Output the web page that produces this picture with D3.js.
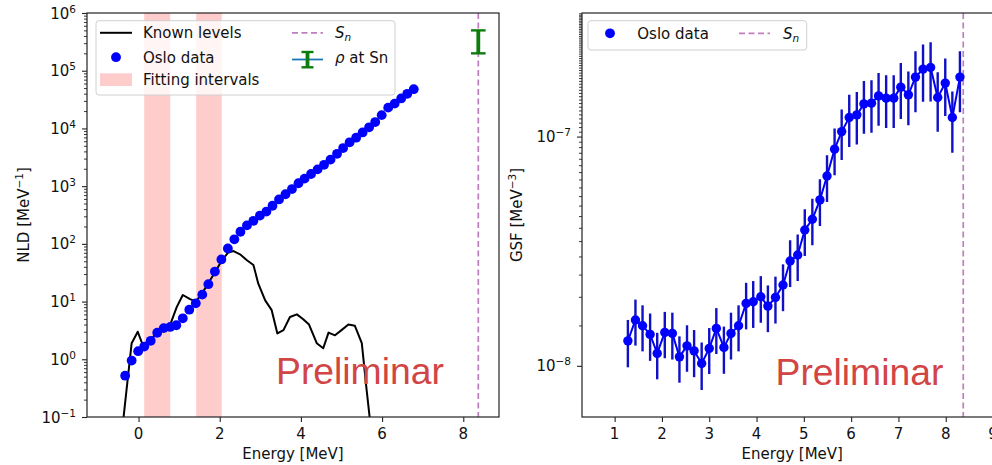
<!DOCTYPE html>
<html>
<head>
<meta charset="utf-8">
<script src="https://cdn.jsdelivr.net/npm/d3@7"></script>
<style>
  body { margin: 0; background: #fff; }
  svg text { font-family: "DejaVu Sans", sans-serif; fill: #111; }
</style>
</head>
<body>
<svg id="fig" width="992" height="465"></svg>
<script>
// ---------- Level density (left panel) ----------
const nldEnergy = [-0.33,-0.17,-0.01,0.14,0.30,0.46,0.62,0.78,0.93,1.09,1.25,1.41,1.57,1.72,1.88,2.04,2.20,2.36,2.51,2.67,2.83,2.99,3.15,3.30,3.46,3.62,3.78,3.94,4.09,4.25,4.41,4.57,4.73,4.89,5.04,5.20,5.36,5.52,5.68,5.83,5.99,6.15,6.31,6.47,6.62,6.78];
const nldValue = [0.52,0.95,1.38,1.66,2.09,2.88,3.47,3.63,3.89,5.13,7.24,9.33,13.2,20.0,33.1,53.7,83.2,120,162,209,251,309,363,457,589,724,891,1122,1349,1622,1950,2344,2884,3631,4571,5754,6918,8511,10470,12880,16980,22910,26920,33110,39810,47860];

const knownEnergy = [-0.45,-0.17,-0.02,0.10,0.30,0.46,0.62,0.78,0.94,1.09,1.27,1.41,1.57,1.72,1.88,2.04,2.20,2.34,2.50,2.67,2.83,2.95,3.12,3.28,3.42,3.57,3.73,3.90,4.05,4.20,4.39,4.55,4.68,4.84,5.00,5.17,5.33,5.50,5.62,5.74];
const knownValue = [0.03,1.9,3.0,1.8,2.2,2.9,3.3,4.0,8.0,13,11,10,14,21,32,50,70,75,66,52,43,20.4,10.5,7.1,2.8,3.2,5.4,6.0,5.0,4.0,1.9,1.55,2.9,2.6,3.2,4.0,3.8,1.9,0.29,0.05];

const fitStart = [0.14, 1.42];
const fitEnd = [0.78, 2.05];

const snEnergy = 8.37;
const rhoSnValue = 3.5e5;
const rhoSnError = 1.5e5;

const nldXTicks = [0, 2, 4, 6, 8];
const nldYExponents = [-1, 0, 1, 2, 3, 4, 5, 6];

// ---------- Gamma strength function (right panel) ----------
const gsfEnergy = [1.28,1.44,1.59,1.75,1.90,2.06,2.22,2.37,2.53,2.68,2.84,3.00,3.15,3.31,3.46,3.62,3.78,3.93,4.09,4.24,4.40,4.56,4.71,4.87,5.02,5.18,5.34,5.49,5.65,5.80,5.96,6.12,6.27,6.43,6.58,6.74,6.90,7.05,7.21,7.36,7.52,7.68,7.83,7.99,8.14,8.30];
const gsfValue = [1.285e-8,1.585e-8,1.496e-8,1.371e-8,1.133e-8,1.399e-8,1.385e-8,1.094e-8,1.222e-8,1.162e-8,1.024e-8,1.191e-8,1.456e-8,1.203e-8,1.385e-8,1.496e-8,1.872e-8,1.903e-8,2.001e-8,1.822e-8,1.989e-8,2.251e-8,2.866e-8,3.043e-8,3.914e-8,4.357e-8,5.292e-8,6.733e-8,8.811e-8,1.051e-7,1.211e-7,1.244e-7,1.389e-7,1.399e-7,1.505e-7,1.471e-7,1.471e-7,1.643e-7,1.521e-7,1.817e-7,1.969e-7,2.001e-7,1.480e-7,1.711e-7,1.211e-7,1.817e-7];
const gsfError = [0.30e-8,0.36e-8,0.34e-8,0.32e-8,0.26e-8,0.32e-8,0.32e-8,0.25e-8,0.28e-8,0.27e-8,0.24e-8,0.27e-8,0.33e-8,0.28e-8,0.32e-8,0.34e-8,0.43e-8,0.44e-8,0.46e-8,0.42e-8,0.46e-8,0.52e-8,0.66e-8,0.70e-8,0.90e-8,1.00e-8,1.22e-8,1.55e-8,2.03e-8,2.6e-8,3.1e-8,3.2e-8,3.6e-8,3.6e-8,3.9e-8,3.8e-8,3.8e-8,4.5e-8,4.0e-8,5.4e-8,5.5e-8,5.8e-8,4.3e-8,4.8e-8,3.6e-8,5.4e-8];

const gsfXTicks = [1, 2, 3, 4, 5, 6, 7, 8, 9];
const gsfYExponents = [-8, -7];

// ---------- shared style ----------
const FS = 15;
const BLUE = "#0000ff";
const ERRBLUE = "#1010c4";
const SN_COLOR = "#bf7fbf";
const BAND = "#ffcccc";
const RED_TEXT = "#d24545";

const svg = d3.select("#fig");

// Left panel scales
const L = { x0: 87, x1: 499, y0: 13, y1: 417 };
const xL = d3.scaleLinear().domain([-1.27, 8.88]).range([L.x0, L.x1]);
const yL = d3.scaleLog().domain([0.1, 1e6]).range([L.y1, L.y0]);

// Right panel scales
const R = { x0: 582, x1: 1002.5, y0: 13, y1: 417 };
const xR = d3.scaleLinear().domain([0.31, 9.2]).range([R.x0, R.x1]);
const yR = d3.scaleLog().domain([5.98e-9, 3.46e-7]).range([R.y1, R.y0]);

const defs = svg.append("defs");
function clip(id, box) {
  defs.append("clipPath").attr("id", id).append("rect")
    .attr("x", box.x0).attr("y", box.y0)
    .attr("width", box.x1 - box.x0).attr("height", box.y1 - box.y0);
}
clip("clipL", L);
clip("clipR", R);

// power-of-ten label: "10" with a raised exponent
function powLabel(sel, exp) {
  sel.append("tspan").text("10");
  sel.append("tspan").attr("dy", -6).attr("font-size", FS * 0.7)
    .text(exp < 0 ? "\u2212" + Math.abs(exp) : String(exp));
}

function drawAxes(box, x, y, xTicks, yExps, minorVals) {
  const g = svg.append("g");
  // x ticks
  const ax = d3.axisBottom(x).tickValues(xTicks).tickSize(5).tickFormat("");
  const gx = g.append("g").attr("transform", `translate(0,${box.y1})`).call(ax);
  gx.select(".domain").remove();
  gx.selectAll("line").attr("stroke", "#222").attr("stroke-width", 1.1);
  g.selectAll(null).data(xTicks).enter().append("text")
    .attr("x", d => x(d)).attr("y", box.y1 + 21.5)
    .attr("text-anchor", "middle").attr("font-size", FS).text(d => d);
  // y major ticks
  const major = yExps.map(e => Math.pow(10, e));
  const ay = d3.axisLeft(y).tickValues(major).tickSize(5).tickFormat("");
  const gy = g.append("g").attr("transform", `translate(${box.x0},0)`).call(ay);
  gy.select(".domain").remove();
  gy.selectAll("line").attr("stroke", "#222").attr("stroke-width", 1.1);
  // y minor ticks
  const am = d3.axisLeft(y).tickValues(minorVals).tickSize(3).tickFormat("");
  const gm = g.append("g").attr("transform", `translate(${box.x0},0)`).call(am);
  gm.select(".domain").remove();
  gm.selectAll("line").attr("stroke", "#222").attr("stroke-width", 0.9);
  // y labels
  yExps.forEach(e => {
    const t = g.append("text").attr("x", box.x0 - 11).attr("y", y(Math.pow(10, e)) + 5.5)
      .attr("text-anchor", "end").attr("font-size", FS);
    powLabel(t, e);
  });
  return g;
}

function minorTicks(y) {
  return y.ticks(100).filter(v => {
    const l = Math.log10(v);
    return Math.abs(l - Math.round(l)) > 1e-6;
  });
}

// ================= LEFT PANEL =================
const pL = svg.append("g").attr("clip-path", "url(#clipL)");

// fitting intervals
pL.selectAll("rect.band").data(fitStart).enter().append("rect")
  .attr("class", "band")
  .attr("x", (d, i) => xL(d)).attr("y", L.y0)
  .attr("width", (d, i) => xL(fitEnd[i]) - xL(d)).attr("height", L.y1 - L.y0)
  .attr("fill", BAND);

// known levels
const knownLine = d3.line().x(d => xL(d[0])).y(d => yL(d[1]));
pL.append("path")
  .datum(knownEnergy.map((e, i) => [e, knownValue[i]]))
  .attr("d", knownLine).attr("fill", "none")
  .attr("stroke", "#000").attr("stroke-width", 2).attr("stroke-linejoin", "round");

// Oslo data points
pL.selectAll("circle.nld").data(nldEnergy).enter().append("circle")
  .attr("class", "nld")
  .attr("cx", d => xL(d)).attr("cy", (d, i) => yL(nldValue[i]))
  .attr("r", 4.9).attr("fill", BLUE);

// neutron separation energy
pL.append("line")
  .attr("x1", xL(snEnergy)).attr("x2", xL(snEnergy))
  .attr("y1", L.y0).attr("y2", L.y1)
  .attr("stroke", SN_COLOR).attr("stroke-width", 1.7).attr("stroke-dasharray", "6,3.5");

// rho at Sn
const rhoG = pL.append("g").attr("stroke", "#0d7d0d");
rhoG.append("line")
  .attr("x1", xL(snEnergy)).attr("x2", xL(snEnergy))
  .attr("y1", yL(rhoSnValue - rhoSnError)).attr("y2", yL(rhoSnValue + rhoSnError))
  .attr("stroke-width", 3.8);
[rhoSnValue - rhoSnError, rhoSnValue + rhoSnError].forEach(v => {
  rhoG.append("line")
    .attr("x1", xL(snEnergy) - 7.3).attr("x2", xL(snEnergy) + 7.3)
    .attr("y1", yL(v)).attr("y2", yL(v)).attr("stroke-width", 2.4);
});

// axes, spines
drawAxes(L, xL, yL, nldXTicks, nldYExponents, minorTicks(yL));
svg.append("rect").attr("x", L.x0).attr("y", L.y0)
  .attr("width", L.x1 - L.x0).attr("height", L.y1 - L.y0)
  .attr("fill", "none").attr("stroke", "#222").attr("stroke-width", 1.2);

svg.append("text").attr("x", (L.x0 + L.x1) / 2).attr("y", 459)
  .attr("text-anchor", "middle").attr("font-size", FS).text("Energy [MeV]");
{
  const t = svg.append("text")
    .attr("transform", `translate(28.5,${(L.y0 + L.y1) / 2}) rotate(-90)`)
    .attr("text-anchor", "middle").attr("font-size", FS);
  t.append("tspan").text("NLD [MeV");
  t.append("tspan").attr("dy", -6).attr("font-size", FS * 0.7).text("\u22121");
  t.append("tspan").attr("dy", 6).text("]");
}

// legend
{
  const g = svg.append("g");
  g.append("rect").attr("x", 96).attr("y", 20.7).attr("width", 299).attr("height", 74.3)
    .attr("rx", 3).attr("fill", "#fff").attr("fill-opacity", 0.8)
    .attr("stroke", "#d0d0d0").attr("stroke-width", 1);
  // Known levels
  g.append("line").attr("x1", 100).attr("x2", 132).attr("y1", 32.8).attr("y2", 32.8)
    .attr("stroke", "#000").attr("stroke-width", 2);
  g.append("text").attr("x", 143).attr("y", 38.3).attr("font-size", FS).text("Known levels");
  // Oslo data
  g.append("circle").attr("cx", 116).attr("cy", 57.2).attr("r", 4.9).attr("fill", BLUE);
  g.append("text").attr("x", 143).attr("y", 62.7).attr("font-size", FS).text("Oslo data");
  // Fitting intervals
  g.append("rect").attr("x", 100).attr("y", 73.3).attr("width", 32).attr("height", 12.7).attr("fill", BAND);
  g.append("text").attr("x", 143).attr("y", 85).attr("font-size", FS).text("Fitting intervals");
  // Sn
  g.append("line").attr("x1", 292).attr("x2", 323).attr("y1", 32.8).attr("y2", 32.8)
    .attr("stroke", SN_COLOR).attr("stroke-width", 1.7).attr("stroke-dasharray", "6,3.5");
  const s = g.append("text").attr("x", 335).attr("y", 38.3).attr("font-size", FS);
  s.append("tspan").attr("font-style", "italic").text("S");
  s.append("tspan").attr("dy", 3).attr("font-size", FS * 0.7).attr("font-style", "italic").text("n");
  // rho at Sn
  g.append("line").attr("x1", 292).attr("x2", 323).attr("y1", 59.5).attr("y2", 59.5)
    .attr("stroke", "#1f77b4").attr("stroke-width", 1.8);
  const rg = g.append("g").attr("stroke", "#0d7d0d");
  rg.append("line").attr("x1", 307.5).attr("x2", 307.5).attr("y1", 52).attr("y2", 67.3).attr("stroke-width", 3.8);
  rg.append("line").attr("x1", 301.5).attr("x2", 313.5).attr("y1", 52).attr("y2", 52).attr("stroke-width", 2.4);
  rg.append("line").attr("x1", 301.5).attr("x2", 313.5).attr("y1", 67.3).attr("y2", 67.3).attr("stroke-width", 2.4);
  const r = g.append("text").attr("x", 335).attr("y", 62.7).attr("font-size", FS);
  r.append("tspan").attr("font-style", "italic").text("\u03c1");
  r.append("tspan").text(" at Sn");
}

svg.append("text").attr("x", 276).attr("y", 383.5)
  .style("font-family", "'Liberation Sans', Arial, sans-serif").style("fill", RED_TEXT)
  .attr("font-size", 37.3).text("Preliminar");

// ================= RIGHT PANEL =================
const pR = svg.append("g").attr("clip-path", "url(#clipR)");

pR.append("line")
  .attr("x1", xR(snEnergy)).attr("x2", xR(snEnergy))
  .attr("y1", R.y0).attr("y2", R.y1)
  .attr("stroke", SN_COLOR).attr("stroke-width", 1.7).attr("stroke-dasharray", "6,3.5");

// error bars
pR.selectAll("line.err").data(gsfEnergy).enter().append("line")
  .attr("class", "err")
  .attr("x1", d => xR(d)).attr("x2", d => xR(d))
  .attr("y1", (d, i) => yR(gsfValue[i] + gsfError[i]))
  .attr("y2", (d, i) => yR(gsfValue[i] - gsfError[i]))
  .attr("stroke", ERRBLUE).attr("stroke-width", 2.4);

// connecting line
const gsfLine = d3.line().x(d => xR(d[0])).y(d => yR(d[1]));
pR.append("path")
  .datum(gsfEnergy.map((e, i) => [e, gsfValue[i]]))
  .attr("d", gsfLine).attr("fill", "none")
  .attr("stroke", BLUE).attr("stroke-width", 2);

pR.selectAll("circle.gsf").data(gsfEnergy).enter().append("circle")
  .attr("class", "gsf")
  .attr("cx", d => xR(d)).attr("cy", (d, i) => yR(gsfValue[i]))
  .attr("r", 4.7).attr("fill", BLUE);

drawAxes(R, xR, yR, gsfXTicks, gsfYExponents, minorTicks(yR));
svg.append("rect").attr("x", R.x0).attr("y", R.y0)
  .attr("width", R.x1 - R.x0).attr("height", R.y1 - R.y0)
  .attr("fill", "none").attr("stroke", "#222").attr("stroke-width", 1.2);

svg.append("text").attr("x", (R.x0 + R.x1) / 2).attr("y", 459)
  .attr("text-anchor", "middle").attr("font-size", FS).text("Energy [MeV]");
{
  const t = svg.append("text")
    .attr("transform", `translate(522,${(R.y0 + R.y1) / 2}) rotate(-90)`)
    .attr("text-anchor", "middle").attr("font-size", FS);
  t.append("tspan").text("GSF [MeV");
  t.append("tspan").attr("dy", -6).attr("font-size", FS * 0.7).text("\u22123");
  t.append("tspan").attr("dy", 6).text("]");
}

// legend
{
  const g = svg.append("g");
  g.append("rect").attr("x", 588).attr("y", 20.7).attr("width", 218.7).attr("height", 29.3)
    .attr("rx", 3).attr("fill", "#fff").attr("fill-opacity", 0.8)
    .attr("stroke", "#d0d0d0").attr("stroke-width", 1);
  g.append("circle").attr("cx", 610).attr("cy", 33.3).attr("r", 4.9).attr("fill", BLUE);
  g.append("text").attr("x", 637.3).attr("y", 38.6).attr("font-size", FS).text("Oslo data");
  g.append("line").attr("x1", 739).attr("x2", 770).attr("y1", 33.3).attr("y2", 33.3)
    .attr("stroke", SN_COLOR).attr("stroke-width", 1.7).attr("stroke-dasharray", "6,3.5");
  const s = g.append("text").attr("x", 783).attr("y", 38.6).attr("font-size", FS);
  s.append("tspan").attr("font-style", "italic").text("S");
  s.append("tspan").attr("dy", 3).attr("font-size", FS * 0.7).attr("font-style", "italic").text("n");
}

svg.append("text").attr("x", 775.5).attr("y", 385)
  .style("font-family", "'Liberation Sans', Arial, sans-serif").style("fill", RED_TEXT)
  .attr("font-size", 37.3).text("Preliminar");
</script>
</body>
</html>
